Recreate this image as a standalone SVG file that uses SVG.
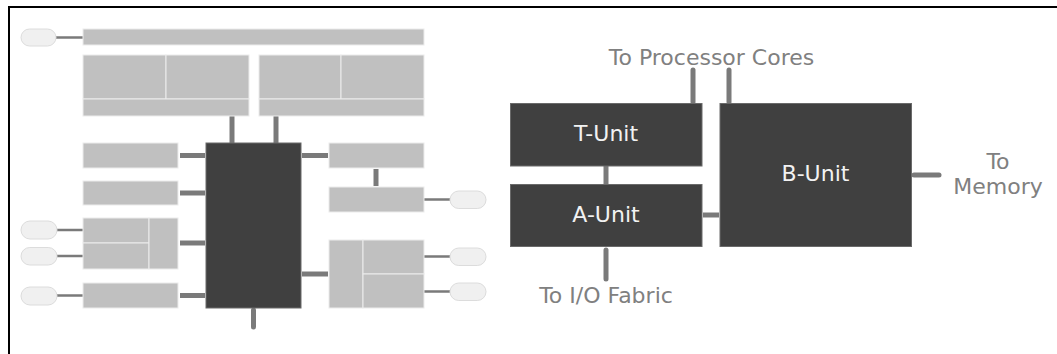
<svg xmlns="http://www.w3.org/2000/svg" width="1057" height="354" viewBox="0 0 1057 354">
<style>
.frame{fill:none;stroke:#000;stroke-width:2}
.blk{fill:#c0c0c0;stroke:#ececec;stroke-width:1}
.dark{fill:#404040;stroke:#6a6a6a;stroke-width:1}
.oval{fill:#f0f0f0;stroke:#dcdcdc;stroke-width:1}
.thin{stroke:#7a7a7a;stroke-width:2.5;fill:none}
.bus{stroke:#7a7a7a;stroke-width:5;fill:none}
.busr{stroke:#7a7a7a;stroke-width:5;fill:none;stroke-linecap:round}
.lbl{font-family:"DejaVu Sans",Verdana,sans-serif;font-size:22px;fill:#808080;text-anchor:middle}
.ulbl{font-family:"DejaVu Sans",Verdana,sans-serif;font-size:22px;fill:#f2f2f2;text-anchor:middle}
</style>
<rect class="frame" x="9" y="7" width="1060" height="360"/>
<g id="connectors">
<line class="thin" x1="56" y1="37.5" x2="83" y2="37.5"/>
<line class="bus" x1="232" y1="116" x2="232" y2="143"/>
<line class="bus" x1="276" y1="116" x2="276" y2="143"/>
<line class="bus" x1="180" y1="155.5" x2="205" y2="155.5"/>
<line class="bus" x1="180" y1="193" x2="205" y2="193"/>
<line class="bus" x1="180" y1="243" x2="205" y2="243"/>
<line class="bus" x1="180" y1="295.5" x2="205" y2="295.5"/>
<line class="thin" x1="57" y1="230" x2="83" y2="230"/>
<line class="thin" x1="57" y1="256" x2="83" y2="256"/>
<line class="thin" x1="57" y1="295.5" x2="83" y2="295.5"/>
<line class="bus" x1="302" y1="155.5" x2="328" y2="155.5"/>
<line class="bus" x1="376" y1="169" x2="376" y2="186"/>
<line class="thin" x1="424" y1="199.5" x2="450" y2="199.5"/>
<line class="bus" x1="302" y1="274" x2="328" y2="274"/>
<line class="thin" x1="424" y1="256.5" x2="450" y2="256.5"/>
<line class="thin" x1="424" y1="291.5" x2="450" y2="291.5"/>
<line class="busr" x1="253.5" y1="310" x2="253.5" y2="327"/>
<line class="bus" x1="606" y1="166" x2="606" y2="184"/>
<line class="bus" x1="703" y1="215" x2="719" y2="215"/>
<line class="busr" x1="606" y1="250" x2="606" y2="279"/>
<line class="busr" x1="693" y1="70" x2="693" y2="102"/>
<line class="busr" x1="729" y1="70" x2="729" y2="102"/>
<line class="busr" x1="914" y1="175" x2="939" y2="175"/>
</g>
<g id="port-top"><rect class="oval" x="21" y="29" width="35" height="17" rx="8.5"/></g>
<g id="top-bar"><rect class="blk" x="83" y="29" width="341" height="16"/></g>
<g id="block-1">
<rect class="blk" x="83" y="55" width="83" height="44"/>
<rect class="blk" x="166" y="55" width="83" height="44"/>
<rect class="blk" x="83" y="99" width="166" height="17"/>
</g>
<g id="block-2">
<rect class="blk" x="259" y="55" width="82" height="44"/>
<rect class="blk" x="341" y="55" width="83" height="44"/>
<rect class="blk" x="259" y="99" width="165" height="17"/>
</g>
<g id="core"><rect class="dark" x="206" y="143" width="95" height="165"/></g>
<g id="left-a"><rect class="blk" x="83" y="143" width="95" height="25"/></g>
<g id="left-b"><rect class="blk" x="83" y="181" width="95" height="24"/></g>
<g id="left-c">
<rect class="blk" x="83" y="218" width="66" height="25"/>
<rect class="blk" x="83" y="243" width="66" height="26"/>
<rect class="blk" x="149" y="218" width="29" height="51"/>
</g>
<g id="left-d"><rect class="blk" x="83" y="283" width="95" height="25"/></g>
<g id="port-l1"><rect class="oval" x="21" y="221" width="36" height="18" rx="9"/></g>
<g id="port-l2"><rect class="oval" x="21" y="247.5" width="36" height="17.5" rx="8.75"/></g>
<g id="port-l3"><rect class="oval" x="21" y="287" width="36" height="18" rx="9"/></g>
<g id="right-e"><rect class="blk" x="329" y="143" width="95" height="25"/></g>
<g id="right-f"><rect class="blk" x="329" y="187" width="95" height="25"/></g>
<g id="right-g">
<rect class="blk" x="329" y="240" width="34" height="68"/>
<rect class="blk" x="363" y="240" width="61" height="34"/>
<rect class="blk" x="363" y="274" width="61" height="34"/>
</g>
<g id="port-r1"><rect class="oval" x="450" y="191" width="36" height="17.5" rx="8.75"/></g>
<g id="port-r2"><rect class="oval" x="450" y="248" width="36" height="17.5" rx="8.75"/></g>
<g id="port-r3"><rect class="oval" x="450" y="283" width="36" height="17.5" rx="8.75"/></g>
<g id="t-unit">
<rect class="dark" x="510.5" y="103.5" width="191.5" height="62.5"/>
<text class="ulbl" x="606" y="141">T-Unit</text>
</g>
<g id="a-unit">
<rect class="dark" x="510.5" y="184.5" width="191.5" height="62"/>
<text class="ulbl" x="606" y="222">A-Unit</text>
</g>
<g id="b-unit">
<rect class="dark" x="720" y="103.5" width="191.5" height="143"/>
<text class="ulbl" x="815.5" y="181">B-Unit</text>
</g>
<g id="labels">
<text class="lbl" x="711.5" y="65">To Processor Cores</text>
<text class="lbl" x="606" y="303">To I/O Fabric</text>
<text class="lbl" x="998" y="169">To</text>
<text class="lbl" x="998" y="194">Memory</text>
</g>
</svg>
